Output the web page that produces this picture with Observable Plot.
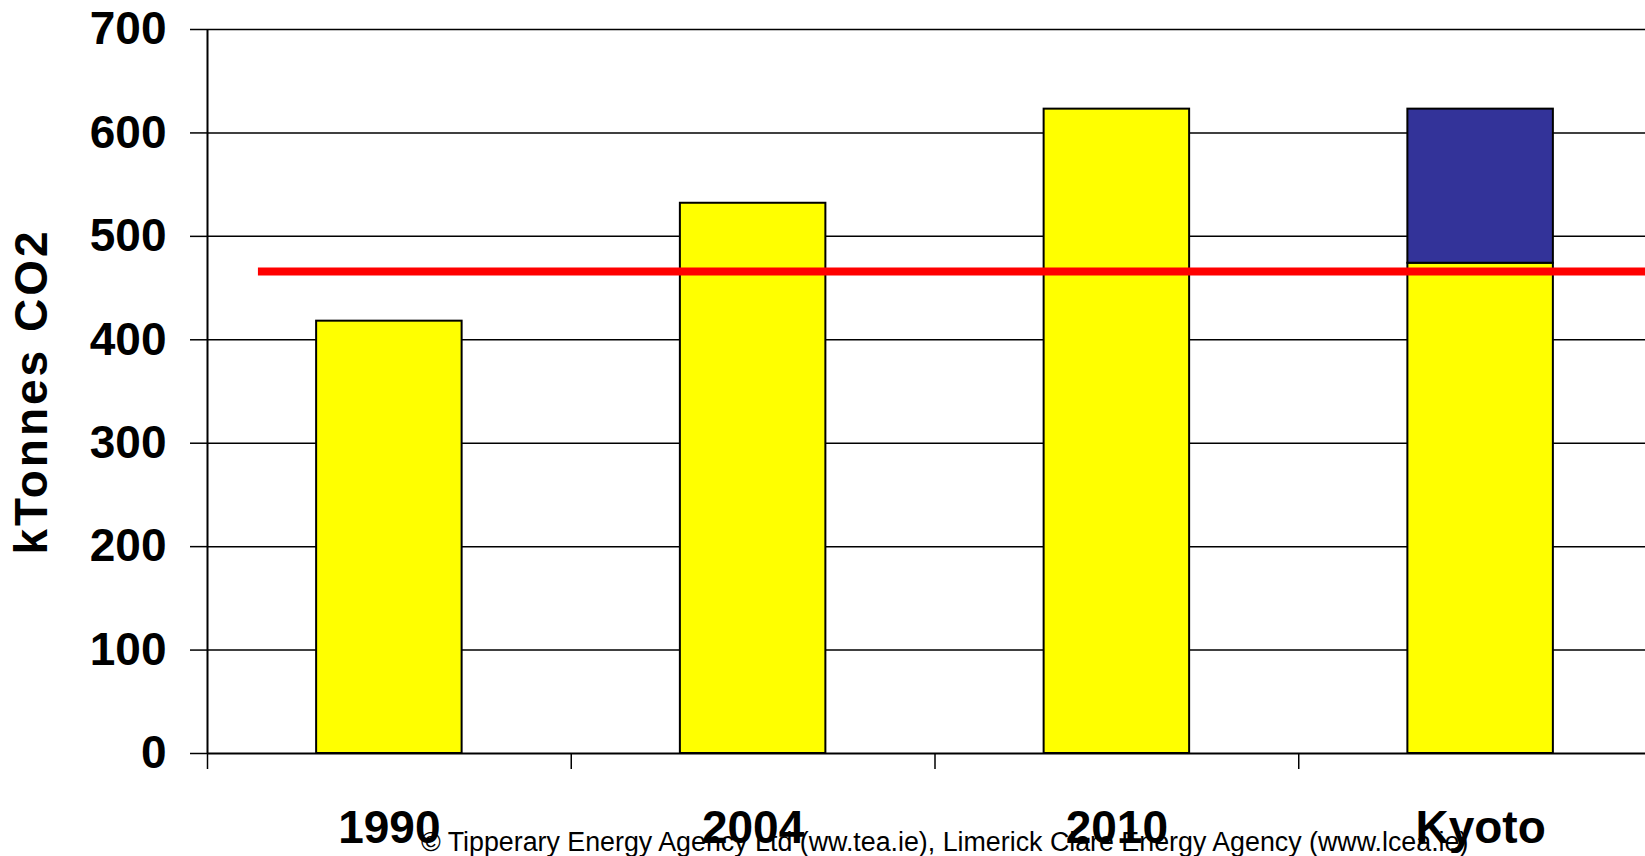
<!DOCTYPE html>
<html>
<head>
<meta charset="utf-8">
<script src="https://cdn.jsdelivr.net/npm/d3@7"></script>
<script src="https://cdn.jsdelivr.net/npm/@observablehq/plot@0.6"></script>
<style>
  html, body { margin: 0; padding: 0; background: #fff; overflow: hidden; }
  #wrap { position: relative; width: 1645px; height: 856px; overflow: hidden; }
  #chart g[aria-label="text"] text { letter-spacing: 3px; }
  #caption {
    position: absolute; left: 421px; top: 829px;
    font-family: "Liberation Sans", Arial, sans-serif; font-size: 26.8px; line-height: 26.8px;
    color: #000; white-space: nowrap;
  }
</style>
</head>
<body>
<div id="wrap"><div id="chart"></div><div id="caption"></div></div>
<script>
const categories = ["1990", "2004", "2010", "Kyoto"];
const emissions = [418, 532, 623, 474];
const reductionNeeded = [0, 0, 0, 149];
const kyotoTarget = 466;
const yTicks = [0, 100, 200, 300, 400, 500, 600, 700];
const yLabel = "kTonnes CO2";
const captionText = "© Tipperary Energy Agency Ltd (ww.tea.ie), Limerick Clare Energy Agency (www.lcea.ie)";

const YELLOW = "#FFFF00";
const NAVY = "#333399";

const bars = categories.flatMap((c, i) => {
  const out = [{cat: c, i, y1: 0, y2: emissions[i], fill: YELLOW}];
  if (reductionNeeded[i] > 0) out.push({cat: c, i, y1: emissions[i], y2: emissions[i] + reductionNeeded[i], fill: NAVY});
  return out;
});

const font = '"Liberation Sans", Arial, sans-serif';

const chart = Plot.plot({
  width: 1645,
  height: 856,
  marginLeft: 207,
  marginRight: -17,
  marginTop: 29,
  marginBottom: 103,
  x: {type: "linear", domain: [0, categories.length]},
  y: {domain: [0, 700]},
  style: {fontFamily: font, background: "#fff", color: "#000", overflow: "hidden"},
  marks: [
    Plot.ruleY(yTicks.slice(1), {stroke: "#000", strokeWidth: 1.5}),
    Plot.axisY({ticks: yTicks, tickSize: 17, tickPadding: 24, tickFormat: d => String(d), fontSize: 46, fontWeight: "bold", label: null, strokeWidth: 1.5, strokeOpacity: 1}),
    Plot.axisX({ticks: d3.range(categories.length), tickSize: 16, tickFormat: () => "", label: null, strokeWidth: 1.5, strokeOpacity: 1}),
    Plot.axisX({ticks: categories.map((c, i) => i + 0.5), tickSize: 0, tickPadding: 57, tickFormat: d => categories[Math.floor(d)], fontSize: 46, fontWeight: "bold", label: null}),
    Plot.rectY(bars, {x1: d => d.i + 0.3, x2: d => d.i + 0.7, y1: "y1", y2: "y2", fill: "fill", stroke: "#000", strokeWidth: 2}),
    Plot.ruleY([0], {stroke: "#000", strokeWidth: 2}),
    Plot.ruleX([0], {y1: 0, y2: 700, stroke: "#000", strokeWidth: 2}),
    Plot.ruleY([kyotoTarget], {x1: 0.14, x2: categories.length, stroke: "#FF0000", strokeWidth: 8}),
    Plot.text([yLabel], {frameAnchor: "left", textAnchor: "middle", lineAnchor: "middle", rotate: -90, dx: -175, fontSize: 46, fontWeight: "bold", fill: "#000", text: d => d})
  ]
});
document.getElementById("chart").appendChild(chart);
document.getElementById("caption").textContent = captionText;
</script>
</body>
</html>
